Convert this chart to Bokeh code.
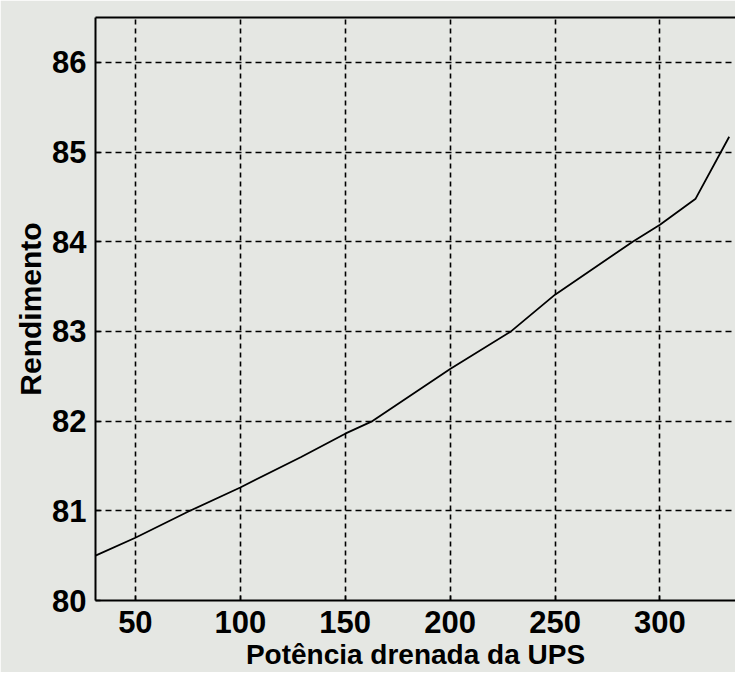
from bokeh.plotting import figure
from bokeh.models import LinearAxis, FixedTicker, Range1d
from bokeh.embed import file_html
from bokeh.resources import INLINE

# Data
potencia = [31, 50, 76, 100, 129, 150, 163, 200, 229, 250, 287, 300, 317, 333]
rendimento = [80.5, 80.7, 81.0, 81.26, 81.6, 81.86, 82.0, 82.58, 83.0, 83.41, 84.0, 84.19, 84.48, 85.17]
x_ticks = [50, 100, 150, 200, 250, 300]
y_ticks = [80, 81, 82, 83, 84, 85, 86]

BG = "#e5e7e3"
FONT = "Liberation Sans"

p = figure(
    output_backend="svg", toolbar_location=None,
    frame_width=640, frame_height=583,
    x_range=Range1d(31, 336), y_range=Range1d(80, 86.5),
    min_border_left=95, min_border_top=17, min_border_right=0, min_border_bottom=10,
    background_fill_color=BG, border_fill_color=BG,
    x_axis_label="Potência drenada da UPS", y_axis_label="Rendimento",
)
p.outline_line_color = None

p.line(potencia, rendimento, line_color="black", line_width=1.8)

for ax in (p.xaxis[0], p.yaxis[0]):
    ax.axis_line_color = "black"
    ax.axis_line_width = 2
    ax.major_tick_in = 5
    ax.major_tick_out = 0
    ax.major_tick_line_color = "black"
    ax.major_tick_line_width = 1.5
    ax.minor_tick_line_color = None
    ax.major_label_text_font = FONT
    ax.major_label_text_font_size = "31px"
    ax.major_label_text_font_style = "bold"
    ax.major_label_text_color = "black"
    ax.axis_label_text_font = FONT
    ax.axis_label_text_font_style = "bold"
    ax.axis_label_text_color = "black"

p.xaxis[0].axis_label_text_font_size = "28px"
p.yaxis[0].axis_label_text_font_size = "30px"
p.xaxis[0].ticker = FixedTicker(ticks=x_ticks)
p.yaxis[0].ticker = FixedTicker(ticks=y_ticks)
p.xaxis[0].major_label_standoff = 10
p.xaxis[0].axis_label_standoff = 3
p.yaxis[0].major_label_standoff = 9
p.yaxis[0].axis_label_standoff = 2

top = LinearAxis(ticker=FixedTicker(ticks=[]), major_label_text_font_size="0px",
                 major_label_standoff=0, major_tick_in=0, major_tick_out=0,
                 minor_tick_line_color=None, axis_line_color="black", axis_line_width=2)
p.add_layout(top, "above")

for g in (p.xgrid[0], p.ygrid[0]):
    g.grid_line_color = "black"
    g.grid_line_width = 1.6
    g.grid_line_alpha = 1.0
p.xgrid[0].ticker = FixedTicker(ticks=x_ticks)
p.ygrid[0].ticker = FixedTicker(ticks=y_ticks)
p.xgrid[0].grid_line_dash = "5 4"
p.ygrid[0].grid_line_dash = "6 4"

open("out.html", "w").write(file_html(p, INLINE))
